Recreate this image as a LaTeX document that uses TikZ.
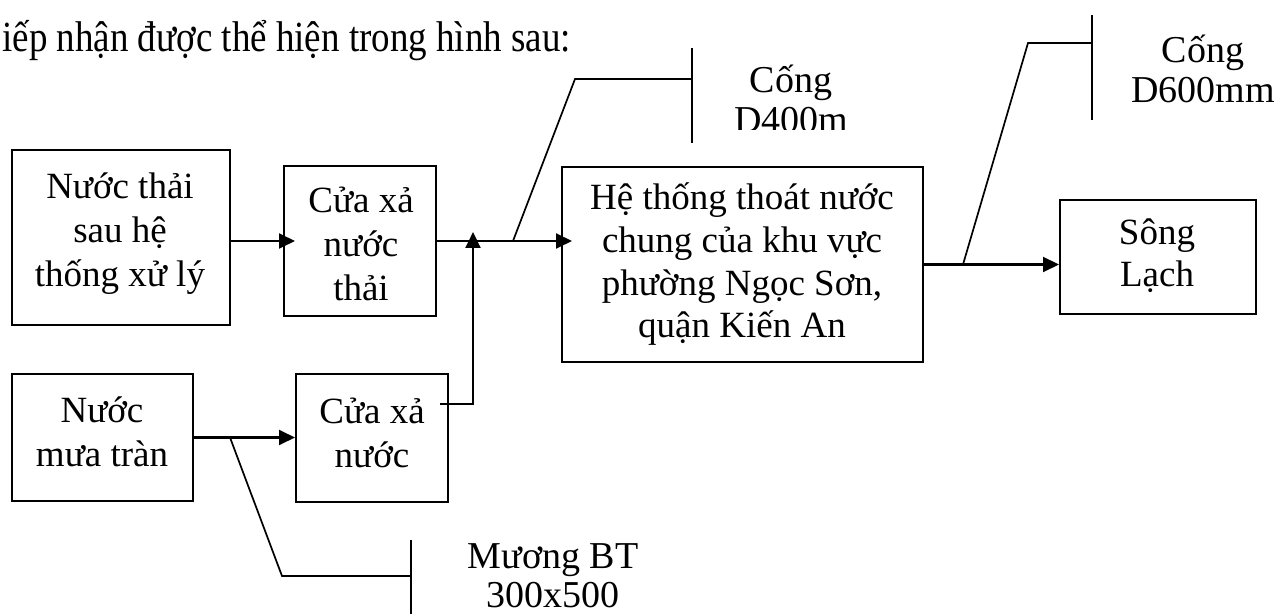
\documentclass[tikz,border=0pt]{standalone}
\usepackage{fontspec}
\setmainfont{Liberation Serif}
\usetikzlibrary{arrows.meta,fit}
\newcommand{\stacklines}[1]{\vtop{\halign{\hfil##\hfil\cr#1\crcr}}}
\begin{document}
\begin{tikzpicture}[x=0.5pt,y=-0.5pt,
  boxshape/.style={draw,line width=1pt,inner sep=0pt,rectangle},
  boxtext/.style={anchor=base,inner sep=0pt,font=\fontsize{18.5}{22}\selectfont},
  labeltext/.style={anchor=base,inner sep=0pt,font=\fontsize{19}{19.75}\selectfont},
  flow/.style={line width=1.45pt,-{Triangle[length=8pt,width=7.4pt]}},
  branch/.style={line width=0.85pt}]
\useasboundingbox[fill=white] (0,0) rectangle (1278,614);

% header text
\node[anchor=base west,inner sep=0pt,font=\fontsize{21.5}{26}\selectfont] (head) at (2,52) {\scalebox{0.86}[1]{iếp nhận được thể hiện trong hình sau:}};

% boxes
\node[boxshape,fit={(12,150) (230,325)}] (b1) {};
\node[boxshape,fit={(284,166) (436,316)}] (b2) {};
\node[boxshape,fit={(562,167) (923,362)}] (b3) {};
\node[boxshape,fit={(12,374) (193,501)}] (b4) {};
\node[boxshape,fit={(296,374) (448,502)}] (b5) {};
\node[boxshape,fit={(1060,200) (1256,314)}] (b6) {};

% box texts
\node[boxtext] (t1) at (120,199) {\stacklines{Nước thải\cr sau hệ\cr thống xử lý}};
\node[boxtext] (t2) at (361,213) {\stacklines{Cửa xả\cr nước\cr thải}};
\node[boxtext,font=\fontsize{18.5}{21.3}\selectfont] (t3) at (742,210) {\stacklines{Hệ thống thoát nước\cr chung của khu vực\cr phường Ngọc Sơn,\cr quận Kiến An}};
\node[boxtext] (t4) at (102,422) {\stacklines{Nước\cr mưa tràn}};
\node[boxtext] (t5) at (372,423) {\stacklines{Cửa xả\cr nước}};
\node[boxtext,font=\fontsize{18.5}{21}\selectfont] (t6) at (1157,245) {\stacklines{Sông\cr Lạch}};

% labels
\begin{scope}
  \clip (700,30) rectangle (900,130);
  \node[labeltext] (l1) at (791,93) {\stacklines{Cống\cr D400m}};
\end{scope}
\node[labeltext] (l2) at (1203,63) {\stacklines{Cống\cr D600mm}};
\node[labeltext] (l3) at (553,568) {\stacklines{Mương BT\cr 300x500}};

% main connectors
\draw[flow] (b1.east |- b2.west) -- ([xshift=6pt]b2.west);
\draw[flow] (b2.east) -- ([xshift=5.5pt]b3.west |- b2.east);
\draw[flow] (b3.east) -- (b6.west |- b3.east);
\draw[flow] (b4.east) -- (b5.west |- b4.east);
\coordinate (m1) at (473,241);
\draw[flow] ([xshift=-4.5pt]b5.east |- 0,404) -| ([yshift=4.5pt]m1);

% branches to pipe labels
\coordinate (k1) at (513,241);
\coordinate (bar1) at (692,79);
\draw[branch] (k1) -- (575,79) -- (bar1);
\draw[branch] (692,48) -- (692,143);

\coordinate (k2) at (963,264.5);
\coordinate (bar2) at (1092,43);
\draw[branch] (k2) -- (1028,43) -- (bar2);
\draw[branch] (1092,15) -- (1092,120);

\coordinate (k3) at (230,437.5);
\coordinate (bar3) at (411,576);
\draw[branch] (k3) -- (282,576) -- (bar3);
\draw[branch] (411,540) -- (411,616);
\end{tikzpicture}
\end{document}
